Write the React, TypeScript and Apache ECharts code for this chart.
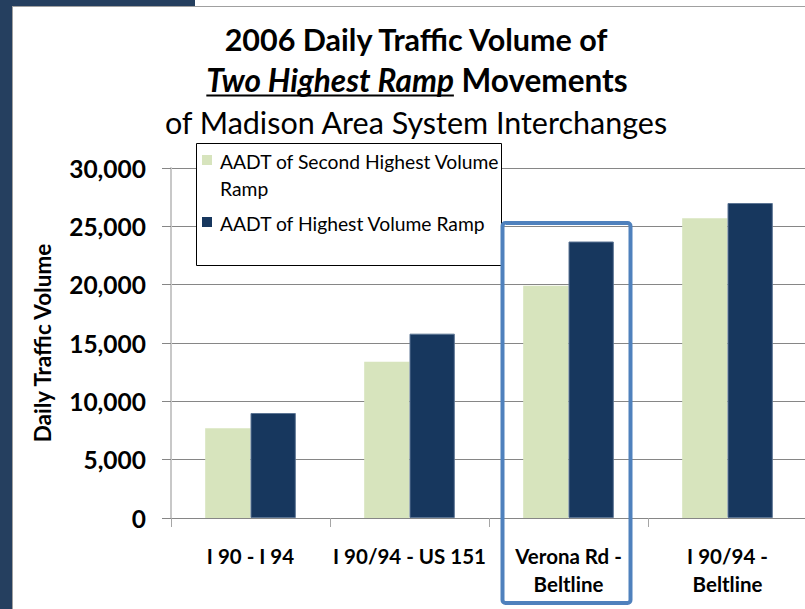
import React, { useEffect, useRef } from 'react';
import * as echarts from 'echarts';

// ---- data ----
const categories = ['I 90 - I 94', 'I 90/94 - US 151', 'Verona Rd -\nBeltline', 'I 90/94 -\nBeltline'];
const secondHighestRamp = [7700, 13400, 19900, 25700];
const highestRamp = [9000, 15800, 23700, 27000];
const seriesNames = ['AADT of Second Highest Volume Ramp', 'AADT of Highest Volume Ramp'];
const legendLines = [['AADT of Second Highest Volume', 'Ramp'], ['AADT of Highest Volume Ramp']];
const yMin = 0;
const yMax = 30000;
const yInterval = 5000;
const titleLine1 = '2006 Daily Traffic Volume of';
const titleLine2a = 'Two Highest Ramp';
const titleLine2b = ' Movements';
const titleLine3 = 'of Madison Area System Interchanges';
const yAxisName = 'Daily Traffic Volume';
const highlightCategory = 2;

const LIGHT = '#D7E4BD';
const DARK = '#17375E';
const FONT = 'Lato, "Noto Sans", sans-serif';

function measure(text: string, font: string): number {
  const c = document.createElement('canvas').getContext('2d');
  if (!c) return text.length * 14;
  c.font = font;
  return c.measureText(text).width;
}

export default function App() {
  const ref = useRef<HTMLDivElement>(null);
  useEffect(() => {
    if (!ref.current) return;
    const chart = echarts.init(ref.current, undefined, { renderer: 'svg' });

    const titleSize = 30.5;
    const title2Size = 31.5;
    const fA = `italic bold ${title2Size}px Lato`;
    const fB = `bold ${title2Size}px Lato`;
    const wA = measure(titleLine2a, fA);
    const wB = measure(titleLine2b, fB);
    const cx = 417;
    const x2 = cx - (wA + wB) / 2;

    const option: any = {
      animation: false,
      backgroundColor: '#ffffff',
      grid: { left: 171, top: 168, width: 636, height: 350, outerBoundsMode: 'none' },
      xAxis: {
        type: 'category',
        data: categories,
        axisLine: { lineStyle: { color: '#868686', width: 1 } },
        axisTick: { show: true, length: 9, lineStyle: { color: '#A6A6A6' } },
        axisLabel: {
          interval: 0,
          color: '#000',
          fontFamily: FONT,
          fontWeight: 'bold',
          fontSize: 20.5,
          lineHeight: 28,
          margin: 24,
        },
        splitLine: { show: false },
      },
      yAxis: {
        type: 'value',
        min: yMin,
        max: yMax,
        interval: yInterval,
        name: yAxisName,
        nameLocation: 'middle',
        nameGap: 117,
        nameRotate: 90,
        nameTextStyle: { color: '#000', fontFamily: FONT, fontWeight: 'bold', fontSize: 22.5 },
        axisLine: { show: true, lineStyle: { color: '#C8C8C8', width: 2 } },
        axisTick: { show: true, length: 9, lineStyle: { color: '#868686' } },
        axisLabel: {
          color: '#000',
          fontFamily: FONT,
          fontWeight: 'bold',
          fontSize: 24.5,
          margin: 25,
          formatter: (v: number) => v.toLocaleString('en-US'),
        },
        splitLine: { show: true, lineStyle: { color: '#868686', width: 1 } },
      },
      legend: { show: false, data: seriesNames },
      series: [
        {
          name: seriesNames[0],
          type: 'bar',
          data: secondHighestRamp,
          barGap: '0%',
          barCategoryGap: '43%',
          itemStyle: { color: LIGHT },
        },
        {
          name: seriesNames[1],
          type: 'bar',
          data: highestRamp,
          barGap: '0%',
          barCategoryGap: '43%',
          itemStyle: { color: DARK, borderColor: '#5C7594', borderWidth: 1 },
        },
      ],
    };
    chart.setOption(option);

    // highlight box around one category, located via the axis scale
    let hx = 502;
    let hw = 128;
    try {
      const p0 = chart.convertToPixel({ xAxisIndex: 0 }, categories[highlightCategory]) as any;
      const c = typeof p0 === 'number' ? p0 : p0[0];
      if (isFinite(c)) {
        hx = c - 66;
        hw = 128;
      }
    } catch (e) {}

    const legendFont = `normal 19.3px ${FONT}`;
    const graphics: any[] = [
      // slide frame
      { type: 'rect', shape: { x: 0, y: 0, width: 12, height: 609 }, style: { fill: '#253F5F' }, z: 0, silent: true },
      { type: 'rect', shape: { x: 0, y: 0, width: 195, height: 6 }, style: { fill: '#253F5F' }, z: 0, silent: true },
      { type: 'line', shape: { x1: 12.5, y1: 6, x2: 12.5, y2: 609 }, style: { stroke: '#A0A0A0', lineWidth: 1 }, z: 0, silent: true },
      { type: 'line', shape: { x1: 12, y1: 6.5, x2: 805, y2: 6.5 }, style: { stroke: '#A0A0A0', lineWidth: 1 }, z: 0, silent: true },
      // titles
      {
        type: 'text', x: 416, y: 39, z: 10,
        style: { text: titleLine1, font: `bold ${titleSize}px ${FONT}`, fill: '#000', textAlign: 'center', textVerticalAlign: 'middle', align: 'center', verticalAlign: 'middle' },
      },
      {
        type: 'text', x: x2, y: 80, z: 10,
        style: {
          text: `{a|${titleLine2a}}{b|${titleLine2b}}`,
          fill: '#000', textAlign: 'left', textVerticalAlign: 'middle', align: 'left', verticalAlign: 'middle',
          rich: {
            a: { fontFamily: FONT, fontStyle: 'italic', fontWeight: 'bold', fontSize: title2Size, fill: '#000', color: '#000' },
            b: { fontFamily: FONT, fontWeight: 'bold', fontSize: title2Size, fill: '#000', color: '#000' },
          },
        },
      },
      { type: 'line', z: 10, shape: { x1: x2, y1: 95.5, x2: x2 + wA, y2: 95.5 }, style: { stroke: '#000', lineWidth: 2 } },
      {
        type: 'text', x: 416, y: 122, z: 10,
        style: { text: titleLine3, font: `normal ${titleSize}px ${FONT}`, fill: '#000', textAlign: 'center', textVerticalAlign: 'middle', align: 'center', verticalAlign: 'middle' },
      },
      // legend box
      { type: 'rect', z: 20, shape: { x: 196.5, y: 143.5, width: 305, height: 122 }, style: { fill: '#fff', stroke: '#000', lineWidth: 1 } },
      { type: 'rect', z: 21, shape: { x: 202, y: 155, width: 10, height: 10 }, style: { fill: LIGHT } },
      { type: 'text', z: 21, x: 220, y: 161, style: { text: legendLines[0][0], font: legendFont, fill: '#000', textVerticalAlign: 'middle', verticalAlign: 'middle' } },
      { type: 'text', z: 21, x: 220, y: 188, style: { text: legendLines[0][1], font: legendFont, fill: '#000', textVerticalAlign: 'middle', verticalAlign: 'middle' } },
      { type: 'rect', z: 21, shape: { x: 202, y: 217, width: 10, height: 10 }, style: { fill: DARK } },
      { type: 'text', z: 21, x: 220, y: 223, style: { text: legendLines[1][0], font: legendFont, fill: '#000', textVerticalAlign: 'middle', verticalAlign: 'middle' } },
      // highlight box
      { type: 'rect', z: 30, shape: { x: hx, y: 223, width: hw, height: 380, r: 3 }, style: { fill: 'none', stroke: '#4F81BD', lineWidth: 4 } },
    ];
    chart.setOption({ graphic: graphics });

    return () => chart.dispose();
  }, []);

  return (
    <div
      ref={ref}
      style={{ position: 'fixed', left: 0, top: 0, width: 805, height: 609, background: '#fff' }}
    />
  );
}
